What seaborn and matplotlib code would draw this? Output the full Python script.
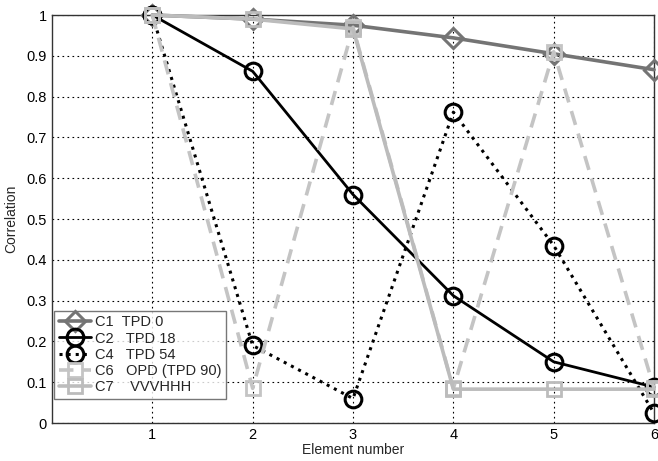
import matplotlib
matplotlib.use("Agg")
import matplotlib.pyplot as plt
import seaborn as sns
import pandas as pd

elements = [1, 2, 3, 4, 5, 6]
c1_tpd0 = [1.0, 0.99, 0.975, 0.944, 0.905, 0.866]
c2_tpd18 = [1.0, 0.862, 0.56, 0.312, 0.15, 0.088]
c4_tpd54 = [1.0, 0.19, 0.06, 0.762, 0.435, 0.024]
c6_opd = [1.0, 0.085, 0.97, 0.085, 0.91, 0.085]
c7_vvvhhh = [1.0, 0.99, 0.966, 0.083, 0.083, 0.083]
labels = ["C1  TPD 0", "C2   TPD 18", "C4   TPD 54", "C6   OPD (TPD 90)", "C7    VVVHHH"]

sns.set_style("white")
plt.rcParams['font.family'] = ['Liberation Sans', 'DejaVu Sans']

fig = plt.figure(figsize=(6.58, 4.61), dpi=100)
ax = fig.add_axes([0.079, 0.0824, 0.915, 0.885])

styles = [
    dict(color="#747474", linestyle="-", marker="D", ms=10, lw=2.6, mew=2.2),
    dict(color="#000000", linestyle="-", marker="o", ms=12, lw=2.0, mew=2.2),
    dict(color="#000000", linestyle=":", marker="o", ms=12, lw=2.2, mew=2.2),
    dict(color="#c4c4c4", linestyle=(0, (4, 2.5)), marker="s", ms=10, lw=2.6, mew=2.0),
    dict(color="#bcbcbc", linestyle="-", marker="s", ms=10, lw=2.6, mew=2.0),
]
series = [c1_tpd0, c2_tpd18, c4_tpd54, c6_opd, c7_vvvhhh]
for vals, lab, st in zip(series, labels, styles):
    df = pd.DataFrame({"x": elements, "y": vals})
    sns.lineplot(data=df, x="x", y="y", ax=ax, color=st["color"], linestyle=st["linestyle"],
                 marker=st["marker"], markersize=st["ms"], linewidth=st["lw"],
                 markerfacecolor="none", markeredgecolor=st["color"], markeredgewidth=st["mew"],
                 label=lab, clip_on=False, zorder=3)

ax.set_xlim(0, 6)
ax.set_ylim(0, 1)
ax.set_xticks([1, 2, 3, 4, 5, 6])
ax.set_xticklabels(["1", "2", "3", "4", "5", "6"])
ax.set_yticks([i / 10 for i in range(11)])
ax.set_yticklabels(["0", "0.1", "0.2", "0.3", "0.4", "0.5", "0.6", "0.7", "0.8", "0.9", "1"])
ax.grid(True, color="black", linestyle=(0, (1.5, 3)), linewidth=0.8)
ax.set_axisbelow(True)
ax.tick_params(direction="in", length=4, labelsize=10.5, colors="black", width=0.8)
for s in ax.spines.values():
    s.set_color("#333333")
    s.set_linewidth(1.0)
ax.set_xlabel("Element number", fontsize=10, labelpad=1)
ax.set_ylabel("Correlation", fontsize=10, labelpad=6)

leg = ax.legend(loc="lower left", bbox_to_anchor=(0.004, 0.06), fontsize=10.5, frameon=True,
                fancybox=False, edgecolor="#555555", handlelength=2.2, handletextpad=0.3,
                borderpad=0.3, labelspacing=0.15, borderaxespad=0)
leg.get_frame().set_linewidth(1.0)
leg.set_zorder(5)

fig.savefig("out.png", dpi=100)
